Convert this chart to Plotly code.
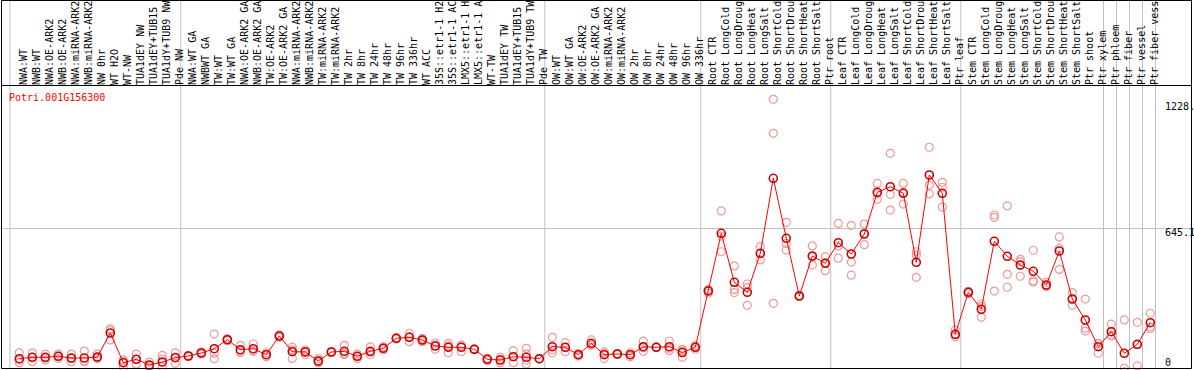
import plotly.graph_objects as go

gene_id = "Potri.001G156300"

samples = [
    "NWA:WT", "NWB:WT", "NWA:OE-ARK2", "NWB:OE-ARK2", "NWA:miRNA-ARK2", "NWB:miRNA-ARK2",
    "NW 0hr", "WT H2O", "WT-NW", "TUA1dEY NW", "TUA1dEY+TUB15 NW", "TUA1dY+TUB9 NW", "Pde NW",
    "NWA:WT GA", "NWBWT GA", "TW:WT", "TW:WT GA", "NWA:OE-ARK2 GA", "NWB:OE-ARK2 GA",
    "TW:OE-ARK2", "TW:OE-ARK2 GA", "NWA:miRNA-ARK2 GA", "NWB:miRNA-ARK2 GA", "TW:miRNA-ARK2",
    "TW:miRNA-ARK2 GA", "TW 2hr", "TW 8hr", "TW 24hr", "TW 48hr", "TW 96hr", "TW 336hr", "WT ACC",
    "35S::etr1-1 H2O", "35S::etr1-1 ACC", "LMX5::etr1-1 H2O", "LMX5::etr1-1 ACC", "WT-TW",
    "TUA1dEY TW", "TUA1dEY+TUB15 TW", "TUA1dY+TUB9 TW", "Pde TW",
    "OW:WT", "OW:WT GA", "OW:OE-ARK2", "OW:OE-ARK2 GA", "OW:miRNA-ARK2", "OW:miRNA-ARK2 GA",
    "OW 2hr", "OW 8hr", "OW 24hr", "OW 48hr", "OW 96hr", "OW 336hr",
    "Root CTR", "Root LongCold", "Root LongDrought", "Root LongHeat", "Root LongSalt",
    "Root ShortCold", "Root ShortDrought", "Root ShortHeat", "Root ShortSalt", "Ptr root",
    "Leaf CTR", "Leaf LongCold", "Leaf LongDrought", "Leaf LongHeat", "Leaf LongSalt",
    "Leaf ShortCold", "Leaf ShortDrought", "Leaf ShortHeat", "Leaf ShortSalt", "Ptr leaf",
    "Stem CTR", "Stem LongCold", "Stem LongDrought", "Stem LongHeat", "Stem LongSalt",
    "Stem ShortCold", "Stem ShortDrought", "Stem ShortHeat", "Stem ShortSalt", "Ptr shoot",
    "Ptr xylem", "Ptr phloem", "Ptr fiber", "Ptr vessel", "Ptr fiber vessel",
]

means = [
    38.6, 45.1, 45.1, 49.8, 41.9, 41.9, 46.5, 158.1, 20.0, 35.8, 9.3, 23.3, 43.3,
    51.2, 65.1, 85.1, 127.0, 80.5, 85.1, 57.2, 144.2, 71.2, 69.8, 27.9, 69.8, 73.0, 49.8,
    73.0, 87.0, 133.5, 138.1, 125.6, 97.7, 91.6, 91.6, 82.3, 35.8, 32.6, 47.9, 45.1, 38.6,
    94.4, 91.6, 57.2, 110.2, 57.2, 60.5, 57.2, 94.4, 91.6, 94.4, 67.4, 91.6,
    353.5, 621.9, 394.0, 347.4, 528.8, 877.7, 598.6, 330.2, 516.3, 482.3,
    578.1, 525.6, 618.6, 812.6, 838.6, 807.9, 487.0, 893.0, 807.9, 152.1,
    347.4, 268.4, 584.7, 514.9, 474.4, 445.1, 381.4, 539.5, 316.3, 218.6, 94.4,
    164.2, 63.7, 105.6, 206.0,
]

replicates = [
    [66, 20, 32], [66, 45, 25], [60, 42, 33], [60, 50, 39], [60, 40, 25], [74, 27, 25],
    [60, 45, 39], [178, 170, 126], [28, 0, 32], [60, 13, 35], [0, 5, 23], [54, 37, 0], [66, 17, 46],
    [54, 48, 51], [71, 60, 64], [153, 38, 64], [132, 122, 127], [101, 73, 68], [107, 73, 76],
    [66, 48, 57], [149, 138, 145], [92, 40, 80], [79, 57, 73], [38, 20, 26], [70, 72, 68],
    [101, 57, 62], [60, 39, 50], [94, 57, 68], [94, 79, 88], [133, 130, 137], [157, 118, 140],
    [133, 118, 126], [110, 82, 100], [110, 66, 98], [102, 71, 100], [82, 84, 80], [38, 29, 40],
    [45, 20, 33], [76, 20, 48], [87, 60, 32, 14], [38, 40, 37],
    [138, 66, 80], [113, 71, 91], [64, 51, 57], [126, 101, 104], [62, 39, 70], [60, 62, 58],
    [66, 48, 57], [120, 73, 90], [92, 90, 93], [121, 76, 87], [82, 45, 75], [82, 100, 92],
    [361, 343, 356], [726, 536, 609], [470, 361, 346], [386, 287, 369], [560, 498, 528],
    [1245, 1087, 296], [673, 575, 544], [330, 328, 333], [563, 474, 512], [513, 448, 486],
    [668, 506, 563], [659, 488, 427], [665, 569, 621], [854, 780, 805], [994, 803, 730],
    [854, 758, 812], [536, 521, 417], [1022, 846, 805], [859, 836, 744], [172, 141, 150],
    [352, 340, 350], [293, 231, 281], [707, 696, 353], [749, 431, 371], [501, 490, 422],
    [543, 401, 395], [394, 374, 376], [605, 552, 454], [346, 287, 316], [316, 180, 167],
    [110, 64, 108], [199, 144, 150], [219, -5, -22], [208, 5, 104], [250, 187, 178],
]

y_labels = ["0", "645.1", "1228."]
y_label_values = [0, 645.1, 1228]

idx = list(range(len(samples)))
rep_x, rep_y = [], []
for i, reps in enumerate(replicates):
    for v in reps:
        rep_x.append(i)
        rep_y.append(v)

fig = go.Figure()
fig.add_trace(go.Scatter(
    x=rep_x, y=rep_y, mode="markers",
    marker=dict(symbol="circle-open", size=8, color="#ee9a9a", line=dict(width=1.2)),
    hoverinfo="skip",
))
fig.add_trace(go.Scatter(
    x=idx, y=means, mode="lines+markers",
    line=dict(color="#ff0000", width=1),
    marker=dict(symbol="circle-open", size=8, color="#c80000", line=dict(width=1.6)),
))

mono = "DejaVu Sans Mono"
W, H = 1194, 370
x_lo = -19.3 / 13
x_hi = (W - 19.3) / 13
y_bottom = -3 / 0.215
y_top = (367 - 86) / 0.215

fig.update_layout(
    width=W, height=H,
    margin=dict(l=0, r=0, t=0, b=0),
    paper_bgcolor="white", plot_bgcolor="white",
    showlegend=False,
    xaxis=dict(
        range=[x_lo, x_hi], domain=[0, 1],
        side="top", tickmode="array", tickvals=idx, ticktext=samples,
        tickangle=-90, ticks="", showgrid=False, zeroline=False, showline=False,
        tickfont=dict(family=mono, size=10, color="black"),
        ticklabelstandoff=0, ticklabelshift=4, automargin=False,
    ),
    yaxis=dict(
        range=[y_bottom, y_top], domain=[0, (H - 86) / H],
        tickmode="array", tickvals=[645.1], showticklabels=False,
        showgrid=True, gridcolor="#c0c0c0", gridwidth=1, zeroline=False,
        showline=False, automargin=False,
    ),
)

# group separators
for xb in [-0.72, 12.42, 40.42, 52.42, 62.42, 72.42, 83.4, 84.4, 85.4, 86.4, 87.4]:
    fig.add_shape(type="line", xref="x", yref="paper", x0=xb, x1=xb, y0=1 - 368 / H, y1=1,
                  line=dict(color="#c0c0c0", width=1), layer="below")

# borders
fig.add_shape(type="rect", xref="paper", yref="paper",
              x0=1.5 / W, x1=1191.5 / W, y0=1 - 368.5 / H, y1=1 - 0.5 / H,
              line=dict(color="black", width=1))
fig.add_shape(type="line", xref="paper", yref="paper",
              x0=1.5 / W, x1=1191.5 / W, y0=1 - 85.5 / H, y1=1 - 85.5 / H,
              line=dict(color="black", width=1))

# right value labels
shifts = [5, -4, -4]
for txt, v, s in zip(y_labels, y_label_values, shifts):
    fig.add_annotation(text=txt, x=1163 / W, xref="paper", y=v, yref="y",
                       xanchor="left", yanchor="middle", yshift=s, showarrow=False,
                       font=dict(family=mono, size=10, color="black"))

fig.add_annotation(text=gene_id, x=7 / W, xref="paper", y=1 - 97 / H, yref="paper",
                   xanchor="left", yanchor="middle", showarrow=False,
                   font=dict(family=mono, size=10, color="#ff0000"))

fig.write_html("out.html", config={"displayModeBar": False},
               post_script="document.body.style.margin='0';document.body.style.overflow='hidden';")
